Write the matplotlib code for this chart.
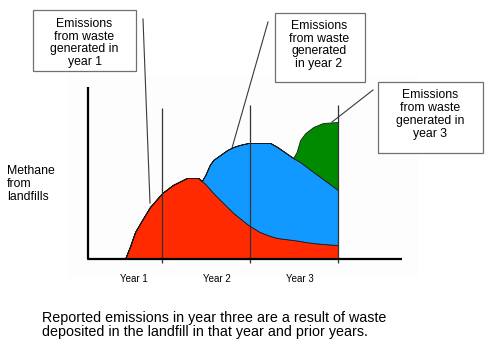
import matplotlib.pyplot as plt
from matplotlib.patches import Rectangle

plt.rcParams['font.family'] = ['Liberation Sans', 'DejaVu Sans']

# emissions from each year's waste, stacked, sampled along the time axis (years)
x_pos = [0.575, 0.63, 0.69, 0.77, 0.86, 1.0, 1.12, 1.28, 1.41, 1.45, 1.49, 1.54, 1.58, 1.66,
         1.74, 1.81, 1.88, 1.98, 2.11, 2.23, 2.31, 2.49, 2.53, 2.57, 2.63, 2.72, 2.83, 3.0]
waste_year1 = [0, 12, 27, 39, 52, 66, 74, 81, 81, 78, 75, 70, 66, 59,
               52, 46, 41, 34, 27, 23, 21, 19, 18.5, 18, 17, 16, 15, 14]
waste_year2 = [0, 0, 0, 0, 0, 0, 0, 0, 0, 0, 9, 24, 33, 45,
               57, 66, 73, 82, 89, 93, 91, 82, 80.5, 79, 76, 71, 65, 55]
waste_year3 = [0, 0, 0, 0, 0, 0, 0, 0, 0, 0, 0, 0, 0, 0,
               0, 0, 0, 0, 0, 0, 0, 0, 8, 22, 33, 45, 56, 68]

years = [1, 2, 3]
year_labels = ['Year 1', 'Year 2', 'Year 3']
year_line_tops = [151, 154, 154]

box_texts = ['Emissions\nfrom waste\ngenerated in\nyear 1',
             'Emissions\nfrom waste\ngenerated\nin year 2',
             'Emissions\nfrom waste\ngenerated in\nyear 3']
y_label = 'Methane\nfrom\nlandfills'
caption = ('Reported emissions in year three are a result of waste\n'
           'deposited in the landfill in that year and prior years.')

colors = ['#ff2a00', '#1199ff', '#008a00']

fig = plt.figure(figsize=(4.89, 3.48), dpi=100)

# layer in pixel units for the boxes, labels and caption
lay = fig.add_axes([0, 0, 1, 1])
lay.set_xlim(0, 489)
lay.set_ylim(348, 0)
lay.axis('off')
lay.add_patch(Rectangle((68, 75), 350, 202, facecolor='#fdfdfd', edgecolor='none'))

# callout boxes: (left, top, width, height) and text centre
boxes = [((33, 10, 103, 61), (84.5, 43)),
         ((275, 13, 90, 69), (319, 45)),
         ((378, 82, 105, 71), (430, 114.5))]
callouts = [((143, 19), (150, 203)),
            ((268, 22), (232, 148)),
            ((373, 90), (332, 122))]
for (rect, centre), txt in zip(boxes, box_texts):
    l, t, w, h = rect
    lay.add_patch(Rectangle((l, t), w, h, facecolor='white', edgecolor='#707070', lw=0.9))
    lay.text(centre[0], centre[1], txt, ha='center', va='center', fontsize=8.8,
             linespacing=1.08)
for p0, p1 in callouts:
    lay.plot([p0[0], p1[0]], [p0[1], p1[1]], color='#3a3a3a', lw=0.8)

lay.text(7, 184, y_label, ha='left', va='center', fontsize=8.8, linespacing=1.1)
for xp, lab in zip([134, 217, 300], year_labels):
    lay.text(xp, 279, lab, ha='center', va='center', fontsize=7)
lay.text(42, 325, caption, ha='left', va='center', fontsize=10.3, linespacing=1.05)

# chart layer in data units (years / emissions)
ax = fig.add_axes([0, 0, 1, 1])
ax.patch.set_alpha(0)
ax.set_xlim(-74.5 / 87.8, (489 - 74.5) / 87.8)
ax.set_ylim(-89, 259)
ax.axis('off')

ax.stackplot(x_pos, waste_year1, waste_year2, waste_year3, colors=colors,
             edgecolor='#1a1a1a', linewidth=0.6)
ax.vlines(years, -4, year_line_tops, color='#333333', lw=0.9)
ax.plot([0.154, 0.154, 3.73], [172, 0, 0], color='black', lw=1.6, solid_capstyle='butt')

fig.savefig('out.png', dpi=100)
